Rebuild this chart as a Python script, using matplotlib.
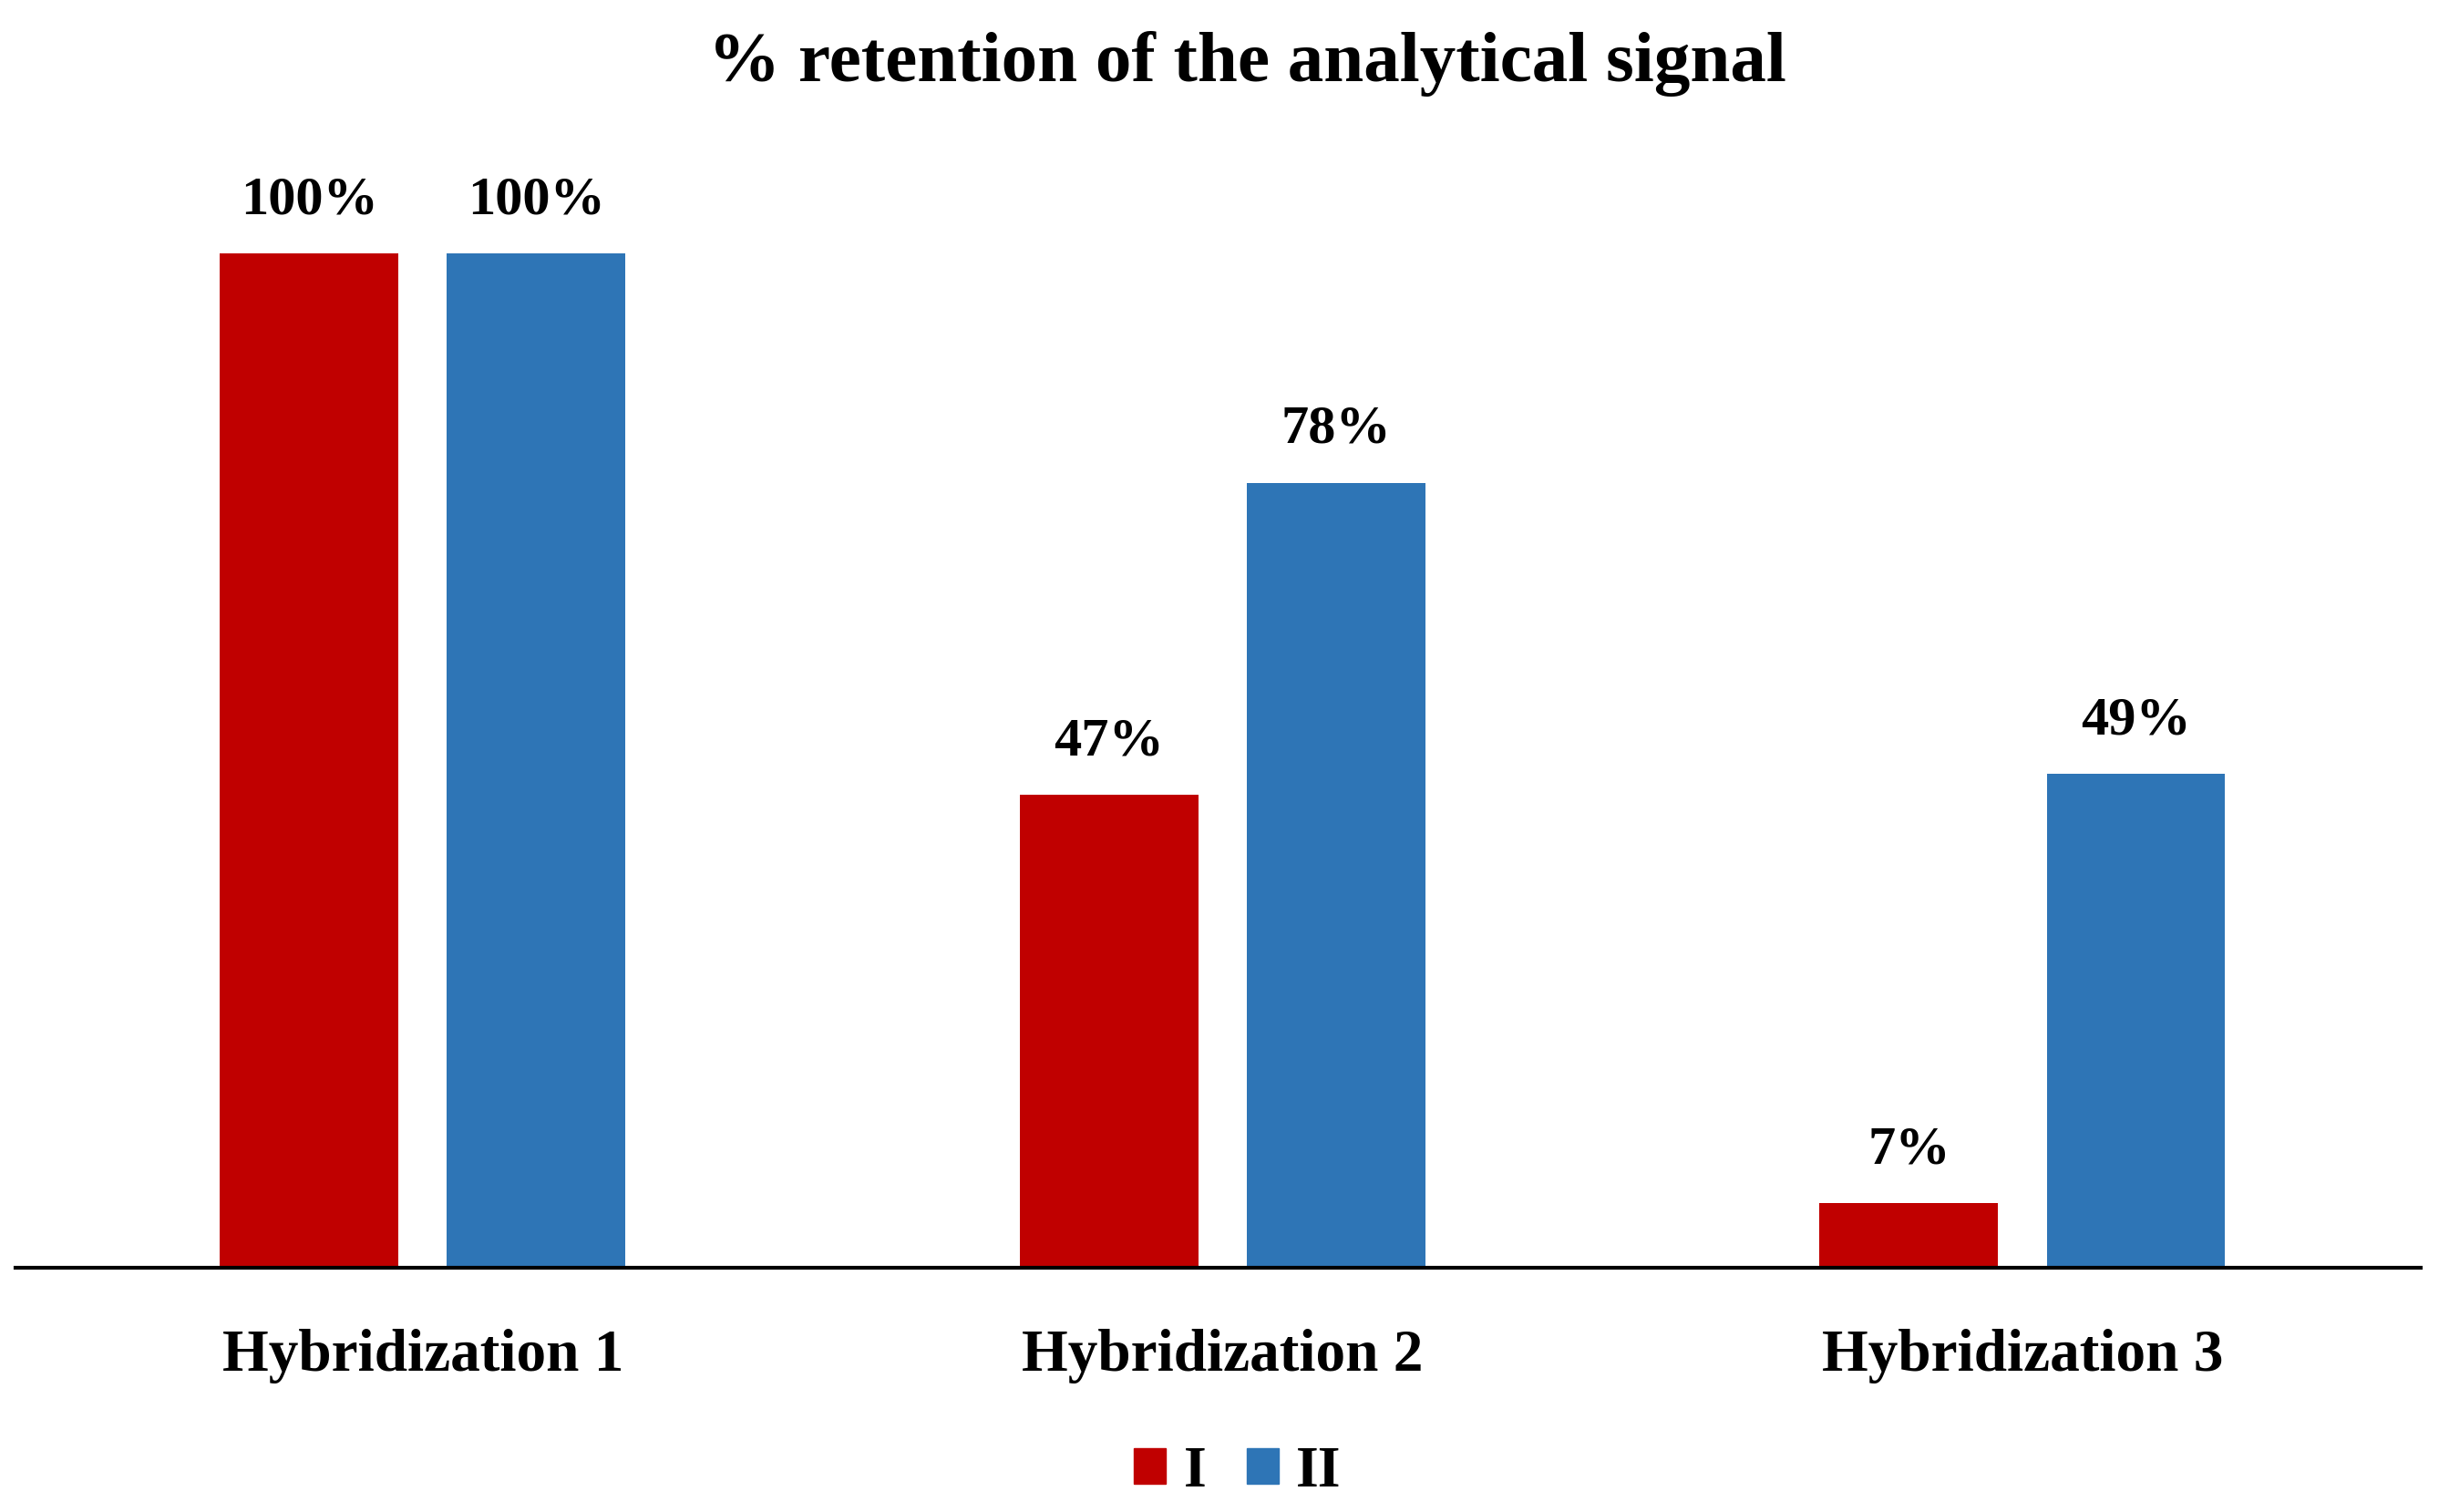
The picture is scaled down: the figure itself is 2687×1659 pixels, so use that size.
import matplotlib
matplotlib.use("Agg")
import matplotlib.pyplot as plt
import numpy as np
from matplotlib.patches import Patch

categories = ["Hybridization 1", "Hybridization 2", "Hybridization 3"]
series_names = ["I", "II"]
values_I = [100, 46.6, 6.4]
values_II = [100, 77.4, 48.7]
value_labels_I = ["100%", "47%", "7%"]
value_labels_II = ["100%", "78%", "49%"]

colors = ["#C00000", "#2E75B6"]
font = "Liberation Serif"

W, H = 2687, 1659
fig = plt.figure(figsize=(W / 100, H / 100), dpi=100)
base_px = 1391
top100_px = 278
px_per_unit = (base_px - top100_px) / 100.0
ymax = 120
ax_bottom = 1 - base_px / H
ax_height = ymax * px_per_unit / H
ax = fig.add_axes([17 / W, ax_bottom, (2656 - 17) / W, ax_height])

x = np.arange(len(categories))
bw = 0.223
off = 0.142
b1 = ax.bar(x - off, values_I, bw, color=colors[0], label=series_names[0])
b2 = ax.bar(x + off, values_II, bw, color=colors[1], label=series_names[1])

for bars, labs in ((b1, value_labels_I), (b2, value_labels_II)):
    for rect, lab in zip(bars, labs):
        ax.annotate(lab, (rect.get_x() + rect.get_width() / 2, rect.get_height()),
                    xytext=(0, 22), textcoords="offset points", ha="center", va="bottom",
                    fontsize=43.5, fontweight="bold", family=font)

ax.set_xlim(-0.509, 2.498)
ax.set_ylim(0, ymax)
for s in ["top", "right", "left"]:
    ax.spines[s].set_visible(False)
ax.spines["bottom"].set_linewidth(3)
ax.spines["bottom"].set_color("black")
ax.set_yticks([])
ax.set_xticks(x)
ax.set_xticklabels(categories, fontsize=47, fontweight="bold", family=font)
ax.tick_params(axis="x", length=0, pad=48)

fig.text(1368 / W, 1 - 70 / H, "% retention of the analytical signal", ha="center", va="center",
         fontsize=57, fontweight="bold", family=font)

handles = [Patch(color=colors[0]), Patch(color=colors[1])]
fig.legend(handles, series_names, loc="center", bbox_to_anchor=(1358 / W, 1 - 1616 / H),
           ncol=2, frameon=False, prop={"family": font, "weight": "bold", "size": 46},
           handlelength=0.55, handleheight=0.55, handletextpad=0.3, columnspacing=0.7)

fig.savefig("out.png", dpi=100, facecolor="white")
